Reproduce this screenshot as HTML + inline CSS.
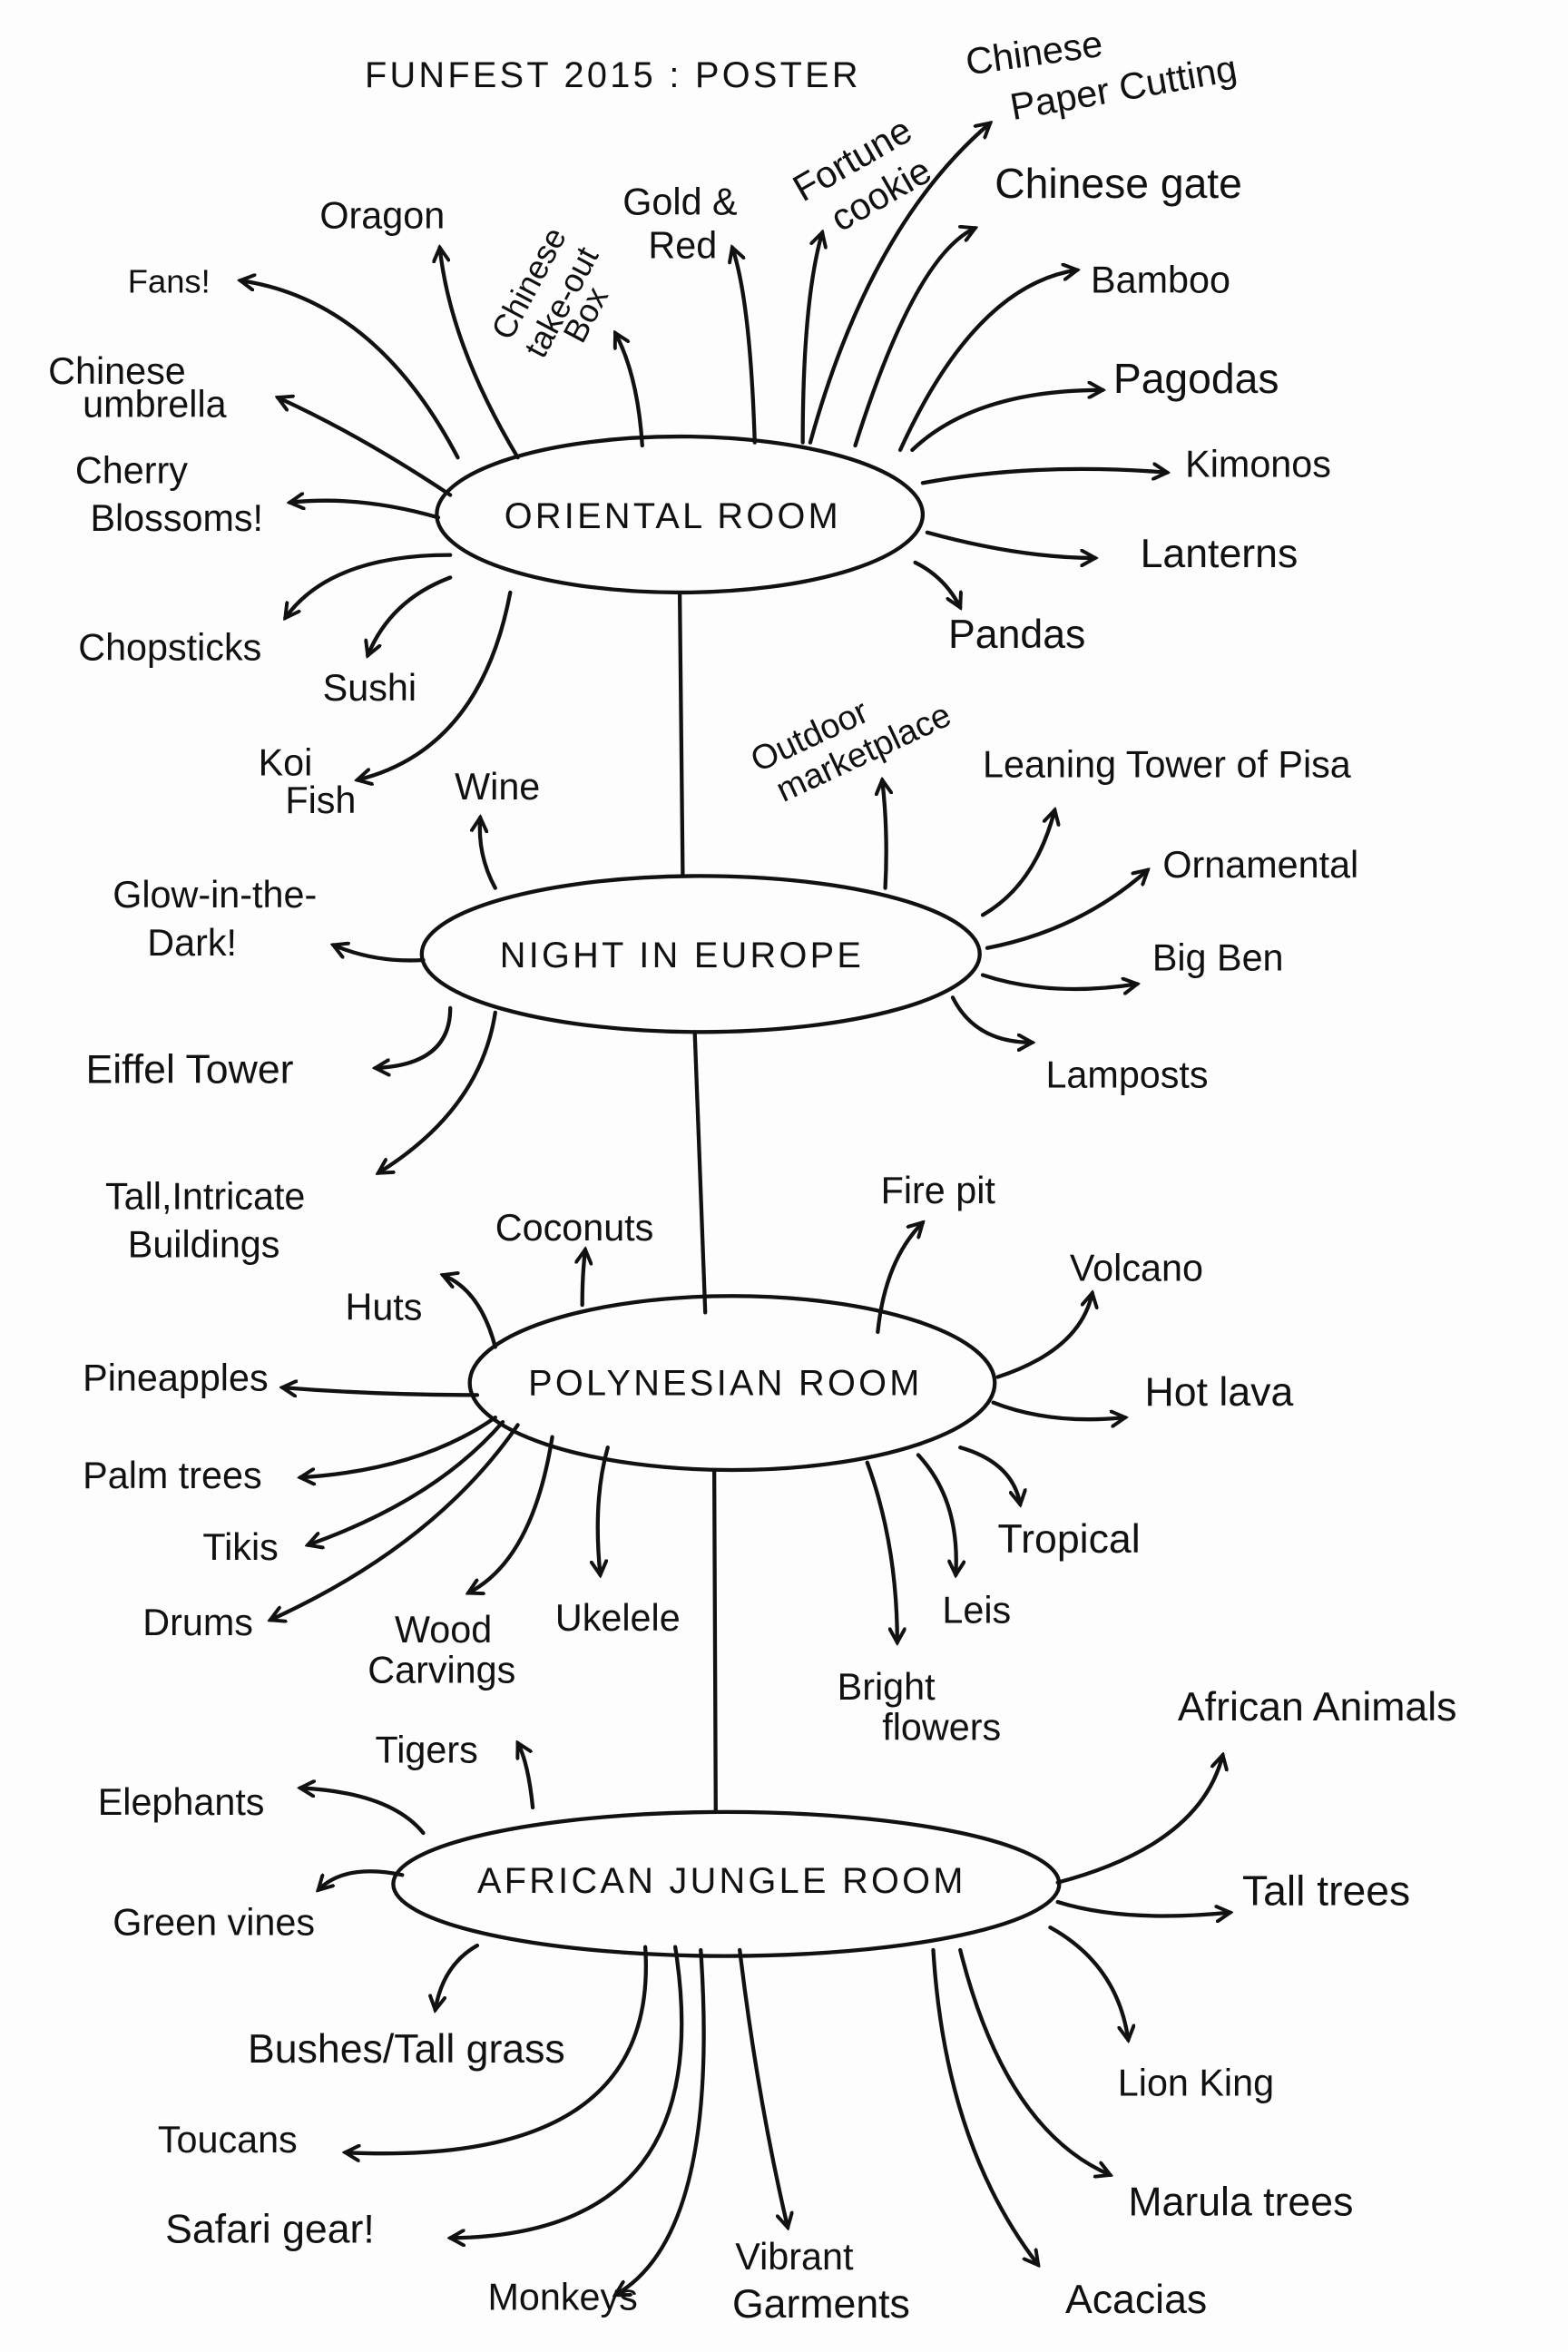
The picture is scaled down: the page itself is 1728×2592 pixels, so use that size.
<!DOCTYPE html>
<html><head><meta charset="utf-8"><style>
html,body{margin:0;padding:0;background:#fdfdfd;}
svg{display:block}
text{font-family:"Liberation Sans",sans-serif;fill:#111;font-size:25px;}
.n{font-size:24px;letter-spacing:2px}
path,line,ellipse{stroke:#111;stroke-width:2.6;fill:none;stroke-linecap:round}
</style></head><body>
<svg width="1728" height="2592" viewBox="0 0 1045 1568" xmlns="http://www.w3.org/2000/svg">
<defs><marker id="a" markerWidth="12" markerHeight="12" refX="10" refY="6" orient="auto" markerUnits="userSpaceOnUse">
<path d="M1,1 L10,6 L1,11" style="stroke-width:2.4"/></marker></defs>
<rect width="1045" height="1568" fill="#fdfdfd"/>
<text x="243" y="58" style="font-size:24px;letter-spacing:2px">FUNFEST 2015 : POSTER</text>

<!-- ellipses -->
<ellipse cx="453" cy="343" rx="162" ry="52"/>
<ellipse cx="467" cy="636" rx="186" ry="52"/>
<ellipse cx="488" cy="922" rx="175" ry="58"/>
<ellipse cx="484" cy="1256" rx="222" ry="48"/>
<text class="n" x="336" y="352">ORIENTAL ROOM</text>
<text class="n" x="333" y="645">NIGHT IN EUROPE</text>
<text class="n" x="352" y="930">POLYNESIAN ROOM</text>
<text class="n" x="318" y="1262">AFRICAN JUNGLE ROOM</text>
<line x1="453" y1="396" x2="455" y2="584"/>
<line x1="463" y1="688" x2="470" y2="875"/>
<line x1="476" y1="980" x2="477" y2="1207"/>

<g marker-end="url(#a)">
<!-- Oriental -->
<path d="M305,305 Q250,200 160,187"/>
<path d="M345,305 Q300,230 293,165"/>
<path d="M428,297 Q425,250 410,222"/>
<path d="M503,295 Q500,200 488,165"/>
<path d="M535,295 Q535,200 548,155"/>
<path d="M540,295 Q580,150 660,82"/>
<path d="M570,297 Q610,170 650,152"/>
<path d="M600,300 Q650,190 718,180"/>
<path d="M608,300 Q650,260 735,260"/>
<path d="M615,322 Q690,308 778,315"/>
<path d="M618,355 Q680,372 730,372"/>
<path d="M610,375 Q630,385 640,405"/>
<path d="M300,330 Q240,290 185,265"/>
<path d="M292,345 Q240,330 193,335"/>
<path d="M300,370 Q220,370 190,412"/>
<path d="M300,385 Q260,400 245,437"/>
<path d="M340,395 Q320,500 238,520"/>
<!-- Europe -->
<path d="M330,592 Q318,570 320,545"/>
<path d="M590,592 Q592,555 588,520"/>
<path d="M655,610 Q690,590 703,540"/>
<path d="M658,632 Q720,620 765,580"/>
<path d="M655,650 Q700,665 758,656"/>
<path d="M635,665 Q650,695 688,695"/>
<path d="M282,640 Q250,642 222,630"/>
<path d="M300,672 Q300,710 250,712"/>
<path d="M330,675 Q320,740 252,782"/>
<!-- Polynesian -->
<path d="M388,870 Q388,850 390,833"/>
<path d="M330,898 Q320,860 295,850"/>
<path d="M585,888 Q590,840 615,815"/>
<path d="M665,918 Q720,900 728,862"/>
<path d="M662,935 Q700,950 750,945"/>
<path d="M640,965 Q675,975 680,1003"/>
<path d="M612,970 Q640,1000 637,1050"/>
<path d="M578,975 Q598,1030 598,1095"/>
<path d="M405,965 Q395,1000 400,1050"/>
<path d="M368,958 Q355,1040 312,1062"/>
<path d="M345,950 Q290,1030 180,1080"/>
<path d="M335,948 Q290,1000 205,1030"/>
<path d="M330,945 Q280,980 200,985"/>
<path d="M318,930 Q250,930 188,925"/>
<!-- African -->
<path d="M355,1205 Q352,1175 345,1162"/>
<path d="M282,1222 Q260,1195 200,1192"/>
<path d="M268,1250 Q230,1242 212,1260"/>
<path d="M318,1297 Q295,1310 290,1340"/>
<path d="M430,1298 Q440,1445 230,1435"/>
<path d="M450,1298 Q480,1490 300,1492"/>
<path d="M467,1300 Q480,1490 410,1530"/>
<path d="M493,1300 Q505,1400 525,1485"/>
<path d="M622,1300 Q630,1430 692,1510"/>
<path d="M640,1300 Q670,1420 740,1450"/>
<path d="M700,1285 Q745,1310 752,1360"/>
<path d="M705,1268 Q750,1282 820,1275"/>
<path d="M705,1255 Q800,1230 815,1170"/>
</g>

<!-- Oriental labels -->
<text x="85" y="195" style="font-size:22px">Fans!</text>
<text x="213" y="152">Oragon</text>
<text transform="translate(340,228) rotate(-62)" style="font-size:22px">Chinese</text>
<text transform="translate(362,240) rotate(-62)" style="font-size:22px">take-out</text>
<text transform="translate(388,230) rotate(-62)" style="font-size:22px">Box</text>
<text x="415" y="143">Gold &amp;</text>
<text x="432" y="172">Red</text>
<text transform="translate(535,135) rotate(-30)">Fortune</text>
<text transform="translate(560,155) rotate(-30)">cookie</text>
<text transform="translate(645,50) rotate(-8)">Chinese</text>
<text transform="translate(675,80) rotate(-10)">Paper Cutting</text>
<text x="663" y="132" style="font-size:28px">Chinese gate</text>
<text x="727" y="195">Bamboo</text>
<text x="742" y="262" style="font-size:28px">Pagodas</text>
<text x="790" y="318">Kimonos</text>
<text x="760" y="378" style="font-size:27px">Lanterns</text>
<text x="632" y="432" style="font-size:27px">Pandas</text>
<text x="32" y="256">Chinese</text>
<text x="55" y="278">umbrella</text>
<text x="50" y="322">Cherry</text>
<text x="60" y="354">Blossoms!</text>
<text x="52" y="440">Chopsticks</text>
<text x="215" y="467">Sushi</text>
<text x="172" y="517">Koi</text>
<text x="190" y="542">Fish</text>
<!-- Europe labels -->
<text x="303" y="533">Wine</text>
<text transform="translate(505,515) rotate(-25)" style="font-size:23px">Outdoor</text>
<text transform="translate(522,535) rotate(-25)" style="font-size:23px">marketplace</text>
<text x="655" y="518">Leaning Tower of Pisa</text>
<text x="775" y="585">Ornamental</text>
<text x="768" y="647">Big Ben</text>
<text x="697" y="725">Lamposts</text>
<text x="75" y="605">Glow-in-the-</text>
<text x="98" y="637">Dark!</text>
<text x="57" y="722" style="font-size:27px">Eiffel Tower</text>
<text x="70" y="806">Tall,Intricate</text>
<text x="85" y="838">Buildings</text>
<!-- Polynesian labels -->
<text x="330" y="827">Coconuts</text>
<text x="230" y="880">Huts</text>
<text x="587" y="802">Fire pit</text>
<text x="713" y="854">Volcano</text>
<text x="763" y="937" style="font-size:27px">Hot lava</text>
<text x="665" y="1035" style="font-size:27px">Tropical</text>
<text x="628" y="1082">Leis</text>
<text x="558" y="1133">Bright</text>
<text x="588" y="1160">flowers</text>
<text x="370" y="1087">Ukelele</text>
<text x="263" y="1095">Wood</text>
<text x="245" y="1122">Carvings</text>
<text x="95" y="1090">Drums</text>
<text x="135" y="1040">Tikis</text>
<text x="55" y="992">Palm trees</text>
<text x="55" y="927">Pineapples</text>
<!-- African labels -->
<text x="250" y="1175">Tigers</text>
<text x="65" y="1210">Elephants</text>
<text x="75" y="1290">Green vines</text>
<text x="165" y="1375" style="font-size:27px">Bushes/Tall grass</text>
<text x="105" y="1435">Toucans</text>
<text x="110" y="1495" style="font-size:27px">Safari gear!</text>
<text x="325" y="1540">Monkeys</text>
<text x="490" y="1513">Vibrant</text>
<text x="488" y="1545" style="font-size:27px">Garments</text>
<text x="710" y="1542" style="font-size:27px">Acacias</text>
<text x="752" y="1477" style="font-size:27px">Marula trees</text>
<text x="745" y="1397">Lion King</text>
<text x="828" y="1270" style="font-size:28px">Tall trees</text>
<text x="785" y="1147" style="font-size:27px">African Animals</text>
</svg>
</body></html>
